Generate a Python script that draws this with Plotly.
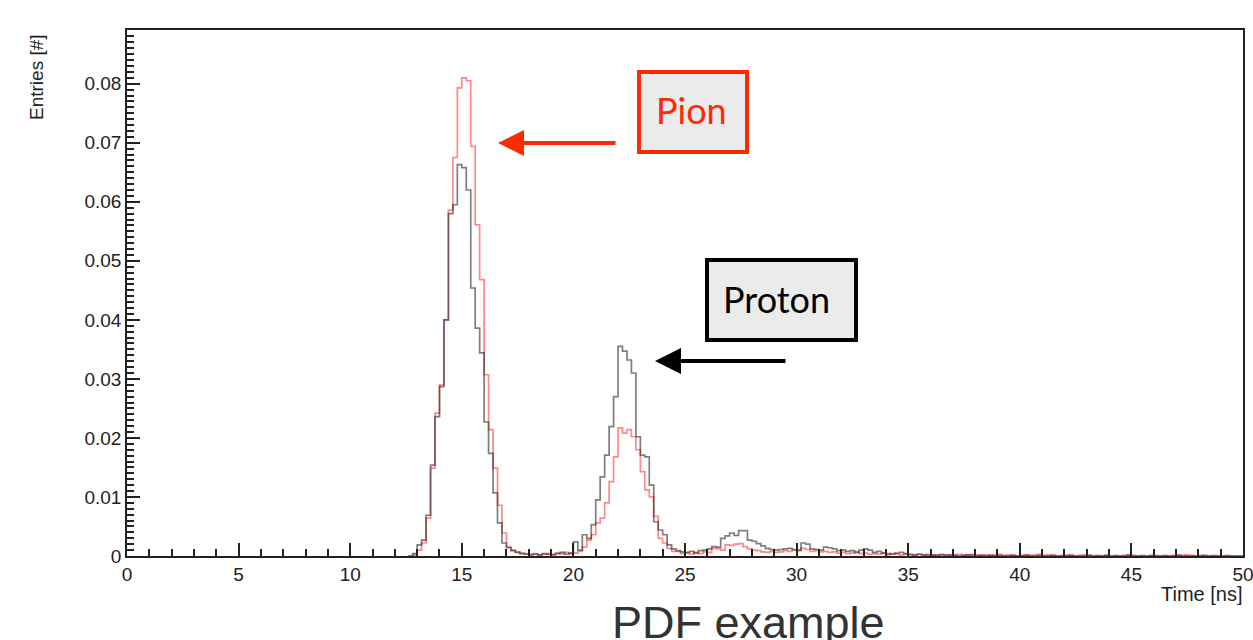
import plotly.graph_objects as go

# ---------------- data ----------------
bin_start = 12.6      # ns, left edge of first listed bin
bin_width = 0.2       # ns

# Pion PDF (red) - bin contents from 12.6 ns upward
pion_pdf = [
    0.0000, 0.0002, 0.0010, 0.0022, 0.0064, 0.0149, 0.0242, 0.0290, 0.0400, 0.0586,  # 12.6
    0.0675, 0.0793, 0.0810, 0.0805, 0.0694, 0.0561, 0.0468, 0.0307, 0.0214, 0.0149,  # 14.6
    0.0086, 0.0039, 0.0016, 0.0010, 0.0007, 0.0005, 0.0004, 0.0003, 0.0004, 0.0002,  # 16.6
    0.0003, 0.0004, 0.0003, 0.0005, 0.0004, 0.0006, 0.0004, 0.0005, 0.0008, 0.0015,  # 18.6
    0.0027, 0.0036, 0.0056, 0.0064, 0.0090, 0.0126, 0.0168, 0.0217, 0.0208, 0.0214,  # 20.6
    0.0202, 0.0180, 0.0143, 0.0112, 0.0100, 0.0067, 0.0030, 0.0022, 0.0013, 0.0008,  # 22.6
    0.0008, 0.0004, 0.0005, 0.0003, 0.0006, 0.0004, 0.0007, 0.0006, 0.0013, 0.0012,  # 24.6
    0.0010, 0.0019, 0.0018, 0.0020, 0.0021, 0.0016, 0.0012, 0.0010, 0.0009, 0.0007,  # 26.6
    0.0006, 0.0008, 0.0006, 0.0007, 0.0009, 0.0008, 0.0010, 0.0009, 0.0013, 0.0011,  # 28.6
    0.0008, 0.0009, 0.0007, 0.0008, 0.0006, 0.0007, 0.0005, 0.0006, 0.0004, 0.0005,  # 30.6
    0.0007, 0.0004, 0.0005, 0.0003, 0.0004, 0.0003, 0.0005, 0.0002, 0.0004, 0.0003,  # 32.6
    0.0002, 0.0003, 0.0002, 0.0001, 0.0003, 0.0002, 0.0003, 0.0001, 0.0002, 0.0003,  # 34.6
    0.0002, 0.0001, 0.0002, 0.0003, 0.0001, 0.0002, 0.0003, 0.0002, 0.0001, 0.0002,  # 36.6
    0.0001, 0.0002, 0.0003, 0.0001, 0.0002, 0.0001, 0.0000, 0.0001, 0.0002, 0.0001,  # 38.6
    0.0002, 0.0003, 0.0001, 0.0002, 0.0001, 0.0000, 0.0001, 0.0002, 0.0001, 0.0000,  # 40.6
    0.0001, 0.0002, 0.0001, 0.0000, 0.0001, 0.0000, 0.0001, 0.0000, 0.0001, 0.0000,  # 42.6
    0.0001, 0.0002, 0.0001, 0.0000, 0.0001, 0.0000, 0.0000, 0.0001, 0.0000, 0.0001,  # 44.6
    0.0000, 0.0001, 0.0002, 0.0001, 0.0002, 0.0001, 0.0000, 0.0001, 0.0000, 0.0000,  # 46.6
    0.0001, 0.0000, 0.0000, 0.0001, 0.0000, 0.0000, 0.0000,                          # 48.6
]

# Proton PDF (black) - bin contents from 12.6 ns upward
proton_pdf = [
    0.0000, 0.0004, 0.0019, 0.0027, 0.0069, 0.0154, 0.0236, 0.0287, 0.0400, 0.0580,  # 12.6
    0.0595, 0.0663, 0.0658, 0.0620, 0.0454, 0.0386, 0.0344, 0.0227, 0.0174, 0.0107,  # 14.6
    0.0056, 0.0022, 0.0014, 0.0009, 0.0006, 0.0004, 0.0003, 0.0002, 0.0003, 0.0002,  # 16.6
    0.0004, 0.0003, 0.0002, 0.0004, 0.0006, 0.0003, 0.0005, 0.0024, 0.0010, 0.0036,  # 18.6
    0.0030, 0.0053, 0.0095, 0.0134, 0.0171, 0.0219, 0.0270, 0.0355, 0.0347, 0.0332,  # 20.6
    0.0310, 0.0202, 0.0171, 0.0168, 0.0120, 0.0058, 0.0044, 0.0036, 0.0019, 0.0012,  # 22.6
    0.0009, 0.0007, 0.0006, 0.0008, 0.0005, 0.0009, 0.0010, 0.0012, 0.0016, 0.0015,  # 24.6
    0.0030, 0.0034, 0.0039, 0.0035, 0.0043, 0.0043, 0.0027, 0.0025, 0.0021, 0.0017,  # 26.6
    0.0013, 0.0011, 0.0010, 0.0011, 0.0012, 0.0013, 0.0011, 0.0010, 0.0022, 0.0020,  # 28.6
    0.0012, 0.0011, 0.0010, 0.0015, 0.0014, 0.0012, 0.0009, 0.0010, 0.0008, 0.0009,  # 30.6
    0.0006, 0.0010, 0.0012, 0.0010, 0.0006, 0.0008, 0.0005, 0.0004, 0.0003, 0.0005,  # 32.6
    0.0006, 0.0004, 0.0003, 0.0002, 0.0003, 0.0002, 0.0001, 0.0002, 0.0001, 0.0002,  # 34.6
    0.0001, 0.0002, 0.0001, 0.0000, 0.0001, 0.0002, 0.0001, 0.0000, 0.0001, 0.0000,  # 36.6
    0.0001, 0.0000, 0.0001, 0.0000, 0.0000, 0.0001, 0.0000, 0.0000, 0.0001, 0.0000,  # 38.6
    0.0000, 0.0001, 0.0000, 0.0000, 0.0001, 0.0000, 0.0000, 0.0000, 0.0001, 0.0000,  # 40.6
    0.0000, 0.0000, 0.0001, 0.0000, 0.0000, 0.0000, 0.0001, 0.0000, 0.0000, 0.0000,  # 42.6
    0.0000, 0.0001, 0.0000, 0.0000, 0.0000, 0.0000, 0.0001, 0.0000, 0.0000, 0.0000,  # 44.6
    0.0000, 0.0000, 0.0001, 0.0000, 0.0000, 0.0000, 0.0000, 0.0000, 0.0001, 0.0000,  # 46.6
    0.0000, 0.0000, 0.0000, 0.0000, 0.0000, 0.0000, 0.0000,                          # 48.6
]

assert len(pion_pdf) == 187 and len(proton_pdf) == 187

x_range = [0, 50]
y_range = [0, 0.0891]
x_title = "Time [ns]"
y_title = "Entries [#]"
caption = "PDF example"
label_pion = "Pion"
label_proton = "Proton"

# ---------------- layout geometry (pixels) ----------------
W, H = 1253, 640
L, R, T, B = 127, 10, 30, 84
PW, PH = W - L - R, H - T - B


def px(xp):
    return (xp - L) / PW


def py(yp):
    return (H - B - yp) / PH


def step_xy(values):
    xs = [bin_start + bin_width * i for i in range(len(values) + 1)]
    ys = list(values) + [values[-1]]
    return xs, ys


fig = go.Figure()
xr, yr = step_xy(pion_pdf)
fig.add_trace(go.Scatter(x=xr, y=yr, mode="lines", line_shape="hv",
                         line=dict(color="rgba(255,40,40,0.55)", width=1.7),
                         name=label_pion, showlegend=False, hoverinfo="skip"))
xb, yb = step_xy(proton_pdf)
fig.add_trace(go.Scatter(x=xb, y=yb, mode="lines", line_shape="hv",
                         line=dict(color="rgba(40,40,40,0.6)", width=1.7),
                         name=label_proton, showlegend=False, hoverinfo="skip"))

SANS = "Liberation Sans, Arial, sans-serif"
axis_font = dict(family=SANS, size=19, color="#222222")
common = dict(showline=True, linecolor="#222222", linewidth=1.5, mirror=True,
              ticks="inside", ticklen=13, tickwidth=1.5, tickcolor="#222222",
              showgrid=False, zeroline=False, tickfont=axis_font, automargin=False,
              ticklabeloverflow="allow")

fig.update_xaxes(range=x_range, tick0=0, dtick=5,
                 minor=dict(ticks="inside", ticklen=7, tickwidth=1.5,
                            tickcolor="#222222", dtick=1, showgrid=False),
                 **common)
fig.update_yaxes(range=y_range, tick0=0, dtick=0.01,
                 minor=dict(ticks="inside", ticklen=7, tickwidth=1.5,
                            tickcolor="#222222", dtick=0.001, showgrid=False),
                 **common)

RED = "#ff2a00"
BOX_FILL = "#ebebeb"
shapes = [
    dict(type="rect", xref="paper", yref="paper",
         x0=px(639), x1=px(747), y0=py(152), y1=py(72),
         line=dict(color=RED, width=4), fillcolor=BOX_FILL, layer="above"),
    dict(type="rect", xref="paper", yref="paper",
         x0=px(707), x1=px(856), y0=py(340), y1=py(260),
         line=dict(color="black", width=4), fillcolor=BOX_FILL, layer="above"),
]

label_font = "Lato, Open Sans, sans-serif"
annotations = [
    dict(text=label_pion, xref="paper", yref="paper", x=px(654), y=py(110),
         xanchor="left", yanchor="middle", showarrow=False,
         font=dict(family=label_font, size=36, color=RED)),
    dict(text=label_proton, xref="paper", yref="paper", x=px(721), y=py(299),
         xanchor="left", yanchor="middle", showarrow=False,
         font=dict(family=label_font, size=36, color="black")),
    # arrows
    dict(text="", xref="paper", yref="paper", x=px(498), y=py(143),
         ax=119, ay=0, showarrow=True, arrowhead=2, arrowsize=1.3,
         arrowwidth=4, arrowcolor=RED, standoff=0),
    dict(text="", xref="paper", yref="paper", x=px(655), y=py(361),
         ax=132, ay=0, showarrow=True, arrowhead=2, arrowsize=1.3,
         arrowwidth=4, arrowcolor="black", standoff=0),
    # axis titles (ROOT style, aligned to axis ends)
    dict(text=x_title, xref="paper", yref="paper", x=px(1245), y=py(594),
         xanchor="right", yanchor="middle", showarrow=False,
         font=dict(family=SANS, size=20, color="#222222")),
    dict(text=y_title, xref="paper", yref="paper", x=px(36), y=py(32),
         xanchor="center", yanchor="top", textangle=-90, showarrow=False,
         font=dict(family=SANS, size=19, color="#222222")),
    # caption
    dict(text=caption, xref="paper", yref="paper", x=px(748), y=py(622),
         xanchor="center", yanchor="middle", showarrow=False,
         font=dict(family=SANS, size=45, color="#333333")),
]

fig.update_layout(width=W, height=H,
                  margin=dict(l=L, r=R, t=T, b=B, pad=0, autoexpand=False),
                  paper_bgcolor="white", plot_bgcolor="white",
                  shapes=shapes, annotations=annotations, showlegend=False)

fig.write_html("out.html", config={"displayModeBar": False},
               post_script="document.body.style.margin='0';document.body.style.overflow='hidden';")
